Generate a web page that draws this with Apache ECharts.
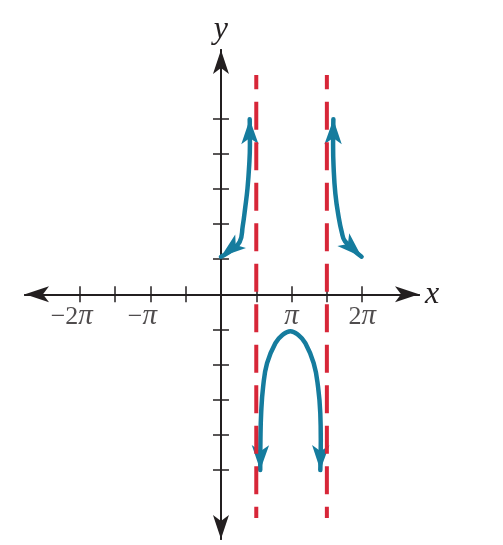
<!DOCTYPE html>
<html><head><meta charset="utf-8">
<script src="https://cdn.jsdelivr.net/npm/echarts@6/dist/echarts.min.js"></script>
<style>html,body{margin:0;padding:0;background:#fff}#c{width:503px;height:545px}</style>
</head><body><div id="c"></div>
<script>
// x values are in units of π, y values in plain units
const xTickValues = [-2, -1.5, -1, -0.5, 0.5, 1, 1.5, 2];
const xLabelValues = [-2, -1, 1, 2];
const yTickValues = [-5, -4, -3, -2, -1, 1, 2, 3, 4, 5];
const asymptoteX = [0.5, 1.5];
const asymptoteYRange = [6.24, -6.36];
const leftBranch = [[0.0,1.07],[0.265,1.49],[0.308,1.94],[0.343,2.46],[0.376,3.02],[0.400,3.68],[0.410,4.25],[0.407,4.98]];
const rightBranch = [[1.592,4.98],[1.588,4.25],[1.595,3.63],[1.620,2.87],[1.666,2.21],[1.711,1.77],[1.757,1.51],[1.992,1.07]];
const middleBranch = [[0.556,-5.0],[0.559,-4.15],[0.569,-3.39],[0.597,-2.63],[0.653,-1.96],[0.771,-1.39],[0.870,-1.16],[0.983,-1.05],[1.096,-1.16],[1.195,-1.39],[1.313,-1.96],[1.375,-2.63],[1.407,-3.39],[1.414,-4.15],[1.407,-5.0]];

const AX = '#231f20', BLUE = '#157c9e', RED = '#d72638';
const SERIF = 'Liberation Serif';
const X_MIN = -2.776, X_MAX = 2.805, Y_MIN = -6.96, Y_MAX = 6.95;

function fmt(v) {
  const n = Math.round(v);
  if (n === 1) return '{p|π}';
  if (n === -1) return '{m|−}{pn|π}';
  if (n === 2) return '{n|2}{p|π}';
  if (n === -2) return '{m|−}{n|2}{pn|π}';
  return '';
}
const rich = {
  n: {fontFamily: SERIF, fontSize: 26, color: AX},
  m: {fontFamily: SERIF, fontSize: 26, color: AX},
  p: {fontFamily: SERIF, fontSize: 29, fontStyle: 'italic', color: AX},
  pn: {fontFamily: SERIF, fontSize: 29, fontStyle: 'italic', color: AX, padding: [0, 16, 0, 0]}
};

function xAxisDef(primary) {
  return {
    type: 'value', min: X_MIN, max: X_MAX,
    position: primary ? 'bottom' : 'top',
    splitLine: {show: false},
    axisLine: {show: true, onZero: true, onZeroAxisIndex: 0,
      symbol: primary ? ['arrow', 'arrow'] : 'none', symbolSize: [12, 24],
      lineStyle: {color: AX, width: 2}},
    axisTick: {show: true, length: 8, customValues: xTickValues, lineStyle: {color: AX, width: 1.5}},
    axisLabel: {show: false},
    name: primary ? 'x' : '', nameLocation: 'end', nameGap: 6,
    nameTextStyle: {fontFamily: SERIF, fontStyle: 'italic', fontSize: 32, color: AX}
  };
}
function yAxisDef(primary) {
  return {
    type: 'value', min: Y_MIN, max: Y_MAX,
    position: primary ? 'left' : 'right',
    splitLine: {show: false},
    axisLine: {show: true, onZero: true, onZeroAxisIndex: 0,
      symbol: primary ? ['arrow', 'arrow'] : 'none', symbolSize: [12, 24],
      lineStyle: {color: AX, width: 2}},
    axisTick: {show: true, length: 8, customValues: yTickValues, lineStyle: {color: AX, width: 1.5}},
    axisLabel: {show: false},
    name: primary ? 'y' : '', nameLocation: 'end', nameGap: 4,
    nameTextStyle: {fontFamily: SERIF, fontStyle: 'italic', fontSize: 32, color: AX}
  };
}

function curve(pts) {
  return {type: 'line', data: pts, smooth: 0.45, showSymbol: false, symbol: 'none',
    lineStyle: {color: BLUE, width: 4.5, cap: 'round'}, z: 2, silent: true};
}
const branches = [leftBranch, middleBranch, rightBranch];
const arrowSegs = [];
branches.forEach(b => {
  arrowSegs.push({coords: [b[1], b[0]]});
  arrowSegs.push({coords: [b[b.length - 2], b[b.length - 1]]});
});

const series = branches.map(curve);
series.push({
  type: 'lines', coordinateSystem: 'cartesian2d', xAxisIndex: 0, yAxisIndex: 0,
  symbol: ['none', 'arrow'], symbolSize: [1, [13, 25]],
  lineStyle: {color: BLUE, width: 0.1, opacity: 1, curveness: 0},
  data: arrowSegs, z: 3, silent: true
});
asymptoteX.forEach(x => {
  series.push({type: 'line', data: [[x, asymptoteYRange[0]], [x, asymptoteYRange[1]]],
    showSymbol: false, symbol: 'none',
    lineStyle: {color: RED, width: 4, type: [28, 12.5], dashOffset: 13.8}, z: 4, silent: true});
});
// tick labels (−2π, −π, π, 2π) placed at their axis values
series.push({
  type: 'scatter', data: xLabelValues.map(v => [v, 0]), symbolSize: 0, silent: true, z: 5,
  label: {show: true, position: 'bottom', distance: 8, rich: rich,
    formatter: p => fmt(p.value[0])}
});

const chart = echarts.init(document.getElementById('c'), null, {renderer: 'canvas'});
chart.setOption({
  animation: false,
  backgroundColor: '#fff',
  grid: {left: 25, right: 84, top: 50, bottom: 6, containLabel: false, outerBoundsMode: 'none'},
  xAxis: [xAxisDef(true), xAxisDef(false)],
  yAxis: [yAxisDef(true), yAxisDef(false)],
  series: series
});
</script></body></html>
